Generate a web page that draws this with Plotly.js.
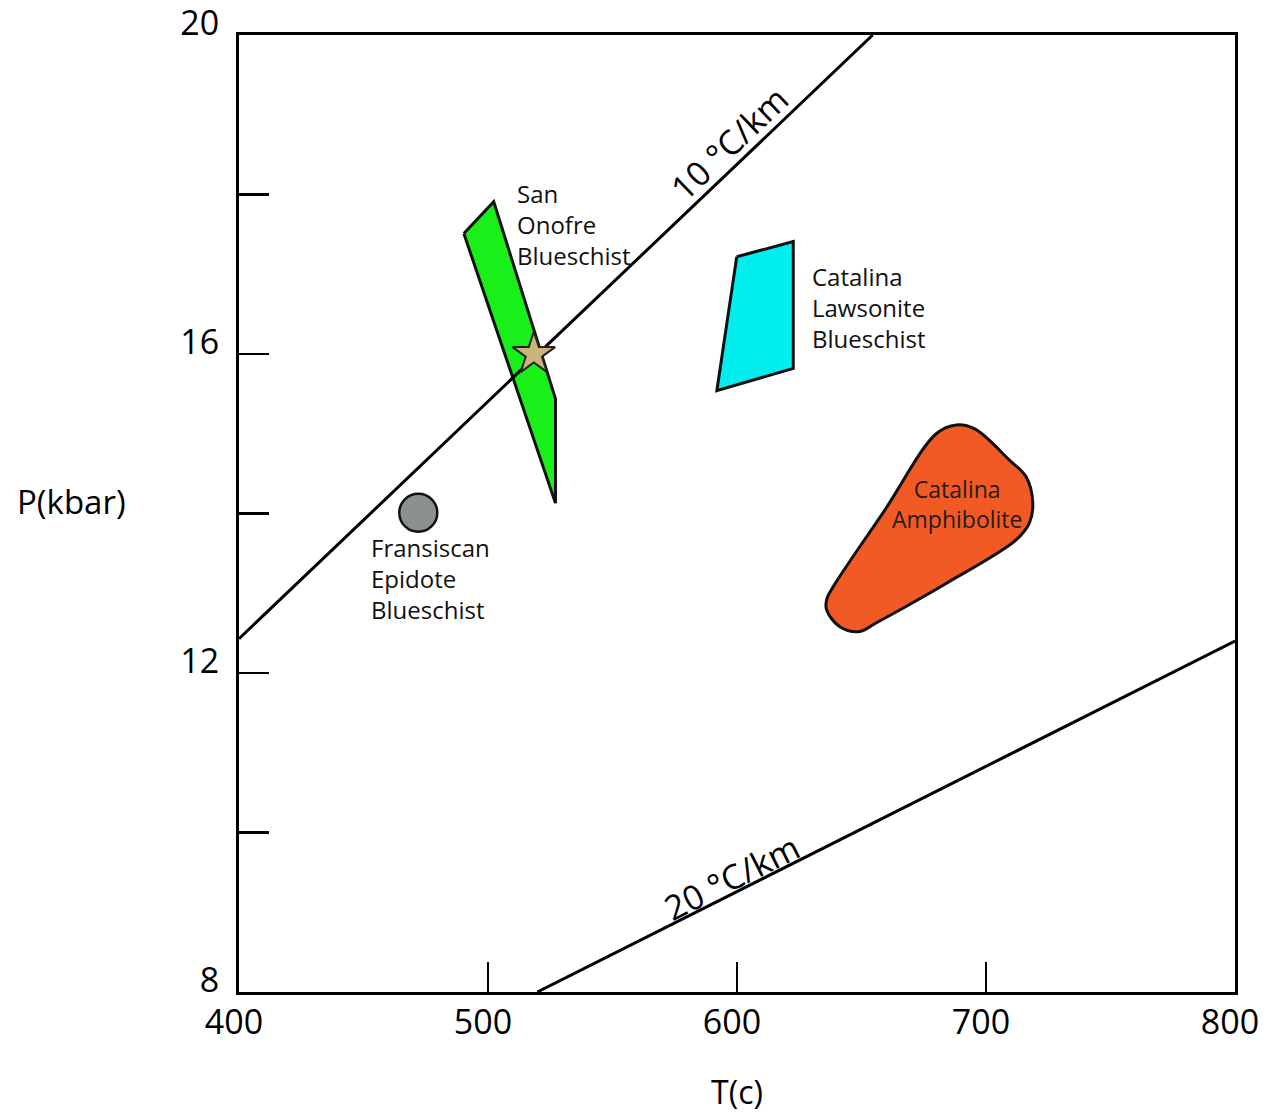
<!DOCTYPE html>
<html>
<head>
<meta charset="utf-8">
<script src="https://cdn.plot.ly/plotly-3.0.1.min.js"></script>
<style>html,body{margin:0;padding:0;background:#fff;}#chart{width:1271px;height:1113px;}</style>
</head>
<body>
<div id="chart"></div>
<script>
// Axis ticks
const tempTicks = [400, 500, 600, 700, 800];
const tempLabels = ['400', '500', '600', '700', '800'];
const presTicks = [8, 10, 12, 14, 16, 18, 20];
const presLabels = ['8', '', '12', '', '16', '', '20'];

// Geotherms (T in °C, P in kbar)
const geo10T = [400, 654.5];
const geo10P = [12.43, 20];
const geo20T = [519.8, 800];
const geo20P = [8, 12.40];

// San Onofre Blueschist field
const sanOnofreT = [490.3, 502.3, 527.1, 527.1, 490.3];
const sanOnofreP = [17.51, 17.91, 15.44, 14.13, 17.51];

// Catalina Lawsonite Blueschist field
const lawsoniteT = [599.9, 622.6, 622.6, 591.9, 599.9];
const lawsoniteP = [17.22, 17.41, 15.82, 15.54, 17.22];

// Catalina Amphibolite field (rounded outline)
const amphT = [659.3, 680.0, 688.1, 695.5, 709.4, 716.1, 718.8, 717.4, 712.1, 683.8, 656.0, 649.3, 641.3, 636.0, 636.0, 638.6, 659.3];
const amphP = [14.04, 15.00, 15.11, 15.06, 14.67, 14.46, 14.13, 13.88, 13.67, 13.12, 12.63, 12.52, 12.58, 12.79, 12.92, 13.08, 14.04];

// Fransiscan Epidote Blueschist point
const epidoteT = [472.0];
const epidoteP = [14.01];

// San Onofre peak estimate (star)
const starT = [518.4];
const starP = [16.0];

// Labels
const fieldLabels = ['San<br>Onofre<br>Blueschist', 'Catalina<br>Lawsonite<br>Blueschist', 'Fransiscan<br>Epidote<br>Blueschist', 'Catalina<br>Amphibolite'];
const fieldLabelT = [511.0, 629.2, 452.2, 688.2];
const fieldLabelP = [17.62, 16.58, 13.19, 14.12];
const geoLabels = ['10 °C/km', '20 °C/km'];
const geoLabelT = [596.8, 597.9];
const geoLabelP = [18.65, 9.44];

const FONT = 'Open Sans, sans-serif';

const traces = [
  {x: sanOnofreT, y: sanOnofreP, mode: 'lines', fill: 'toself', fillcolor: '#19f019',
   line: {color: '#111', width: 3}, hoverinfo: 'skip'},
  {x: lawsoniteT, y: lawsoniteP, mode: 'lines', fill: 'toself', fillcolor: '#00eeee',
   line: {color: '#111', width: 3}, hoverinfo: 'skip'},
  {x: amphT, y: amphP, mode: 'lines', fill: 'toself', fillcolor: '#f15a24',
   line: {color: '#111', width: 3, shape: 'spline', smoothing: 1}, hoverinfo: 'skip'},
  {x: geo10T, y: geo10P, mode: 'lines', line: {color: '#000', width: 3}, hoverinfo: 'skip'},
  {x: geo20T, y: geo20P, mode: 'lines', line: {color: '#000', width: 3}, hoverinfo: 'skip'},
  {x: epidoteT, y: epidoteP, mode: 'markers',
   marker: {symbol: 'circle', size: 38, color: '#8d918d', line: {color: '#111', width: 2.5}}, hoverinfo: 'skip'},
  {x: starT, y: starP, mode: 'markers',
   marker: {symbol: 'star', size: 32, color: '#c9b57c', line: {color: '#222', width: 2}}, hoverinfo: 'skip'}
];

const annotations = [];
const anchors = ['left', 'left', 'left', 'center'];
for (let i = 0; i < fieldLabels.length; i++) {
  annotations.push({
    x: fieldLabelT[i], y: fieldLabelP[i], xref: 'x', yref: 'y',
    text: fieldLabels[i], showarrow: false,
    xanchor: anchors[i], yanchor: 'middle', align: anchors[i],
    font: {family: FONT, size: i === 3 ? 23 : 24, color: i === 3 ? '#2a1a12' : '#111'}
  });
}
const geoAngles = [-43.6, -26.8];
for (let i = 0; i < geoLabels.length; i++) {
  annotations.push({
    x: geoLabelT[i], y: geoLabelP[i], xref: 'x', yref: 'y',
    text: geoLabels[i], showarrow: false, textangle: geoAngles[i],
    xanchor: 'center', yanchor: 'middle',
    font: {family: FONT, size: 34, color: '#000'}
  });
}
annotations.push({
  x: -0.168, y: 0.513, xref: 'paper', yref: 'paper', text: 'P(kbar)', showarrow: false,
  xanchor: 'center', yanchor: 'middle', font: {family: FONT, size: 33, color: '#000'}
});

const layout = {
  width: 1271, height: 1113,
  margin: {l: 239, r: 36, t: 35, b: 121},
  paper_bgcolor: '#fff', plot_bgcolor: '#fff',
  showlegend: false,
  font: {family: FONT, color: '#000'},
  xaxis: {
    range: [400, 800], showgrid: false, zeroline: false,
    showline: true, mirror: true, linecolor: '#000', linewidth: 3,
    ticks: 'inside', ticklen: 30, tickwidth: 2.5, tickcolor: '#000',
    tickvals: tempTicks, ticktext: tempLabels,
    tickfont: {family: FONT, size: 34, color: '#000'},
    ticklabelshift: -5, ticklabelstandoff: -2, ticklabeloverflow: 'allow',
    title: {text: 'T(c)', font: {family: FONT, size: 32, color: '#000'}, standoff: 40}
  },
  yaxis: {
    range: [8, 20], showgrid: false, zeroline: false,
    showline: true, mirror: true, linecolor: '#000', linewidth: 3,
    ticks: 'inside', ticklen: 30, tickwidth: 2.5, tickcolor: '#000',
    tickvals: presTicks, ticktext: presLabels,
    tickfont: {family: FONT, size: 34, color: '#000'},
    ticklabelshift: -12, ticklabelstandoff: 10, ticklabeloverflow: 'allow'
  },
  annotations: annotations
};

Plotly.newPlot('chart', traces, layout, {staticPlot: true, displayModeBar: false});
</script>
</body>
</html>
